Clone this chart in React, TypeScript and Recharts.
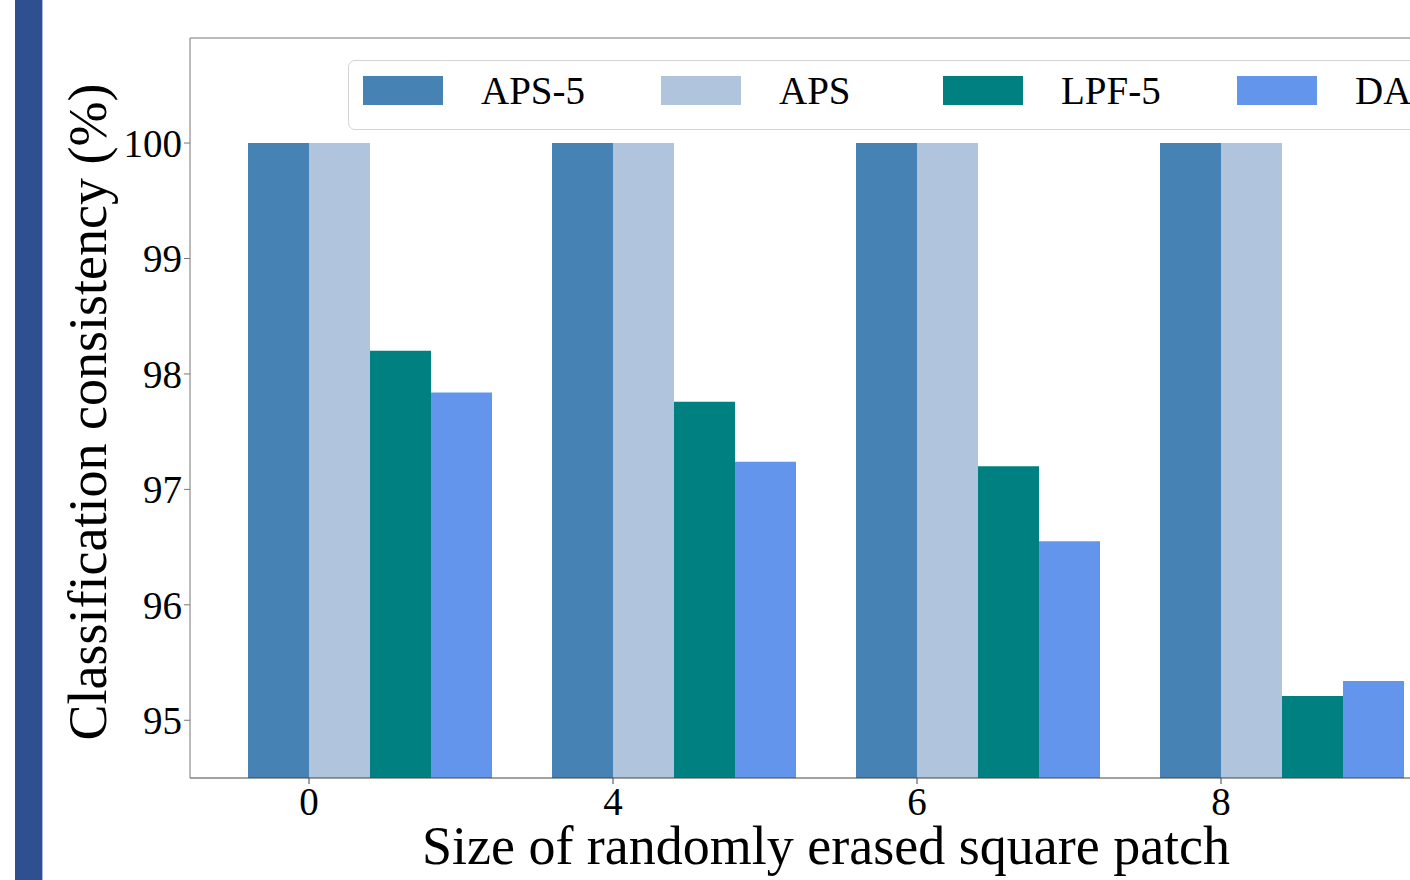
import { BarChart, Bar, XAxis, YAxis, Legend } from "recharts"

const sizes = ["0", "4", "6", "8"]
const seriesNames = ["APS-5", "APS", "LPF-5", "DA"]
const aps5 = [100, 100, 100, 100]
const aps = [100, 100, 100, 100]
const lpf5 = [98.2, 97.76, 97.2, 95.21]
const da = [97.84, 97.24, 96.55, 95.34]
const yTicks = [95, 96, 97, 98, 99, 100]

const data = sizes.map((s, i) => ({ size: s, aps5: aps5[i], aps: aps[i], lpf5: lpf5[i], da: da[i] }))

const FONT = "'Liberation Serif', 'Times New Roman', serif"
const BAR = 61
// legend column widths, matplotlib-ish spacing
const LEGEND_COL_W = [298, 282, 294, 290]

const XTick = (props: any) => {
  const { x, y, payload } = props
  const tx = x - BAR
  return (
    <g>
      <line x1={tx} x2={tx} y1={y - 8} y2={y - 2} stroke="#444" />
      <text x={tx} y={y} dy="0.74em" textAnchor="middle" fontSize={39} fontFamily={FONT} fill="#000">
        {payload.value}
      </text>
    </g>
  )
}

const XTitle = (props: any) => {
  const { viewBox } = props
  const cx = viewBox.x + viewBox.width / 2
  return (
    <text x={cx} y={viewBox.y + 86} textAnchor="middle" fontSize={54} fontFamily={FONT} fill="#000">
      Size of randomly erased square patch
    </text>
  )
}

const YTitle = (props: any) => {
  const { viewBox } = props
  const cx = viewBox.x + 106
  const cy = viewBox.y + viewBox.height / 2 + 4
  return (
    <text x={cx} y={cy} transform={`rotate(-90 ${cx} ${cy})`} textAnchor="middle" fontSize={54} fontFamily={FONT} fill="#000">
      Classification consistency (%)
    </text>
  )
}

const LegendBox = (props: any) => {
  const items = [...(props.payload || [])].sort(
    (a: any, b: any) => seriesNames.indexOf(a.value) - seriesNames.indexOf(b.value)
  )
  return (
    <div
      style={{
        display: "flex",
        alignItems: "center",
        border: "1px solid #d4d4d4",
        borderRadius: 7,
        background: "#fff",
        padding: "10px 0 19px 14px",
        fontFamily: FONT,
        fontSize: 39,
        lineHeight: 1,
        whiteSpace: "nowrap",
      }}
    >
      {items.map((p: any, i: number) => (
        <div key={p.value} style={{ display: "flex", alignItems: "center", width: LEGEND_COL_W[i] }}>
          <span style={{ display: "inline-block", width: 80, height: 29, background: p.color, marginRight: 38 }} />
          <span>{p.value}</span>
        </div>
      ))}
    </div>
  )
}

export default function App() {
  return (
    <div style={{ position: "fixed", left: 0, top: 0, width: 1410, height: 880, overflow: "hidden", background: "#fff", fontFamily: FONT }}>
      <div style={{ position: "absolute", left: 15, top: 0, width: 27, height: 880, background: "#2e5090", borderRight: "1px solid #a9bbdc" }} />
      <div style={{ position: "absolute", left: 0, top: 0 }}>
        <BarChart width={1480} height={880} data={data} margin={{ top: 37, right: 18, left: 0, bottom: 0 }} barGap={0}>
          <XAxis
            dataKey="size"
            height={102}
            padding={{ left: 28, right: 28 }}
            interval={0}
            tickLine={false}
            tickSize={6}
            tickMargin={2}
            tick={<XTick />}
            axisLine={{ stroke: "#444" }}
            label={{ content: <XTitle /> }}
          />
          <XAxis xAxisId="top" orientation="top" dataKey="size" height={1} tick={false} tickLine={false} axisLine={{ stroke: "#777" }} />
          <YAxis
            type="number"
            width={190}
            domain={[94.5, 100.91]}
            ticks={yTicks}
            allowDataOverflow
            tickSize={6}
            tickMargin={2}
            tickLine={{ stroke: "#777" }}
            axisLine={{ stroke: "#777" }}
            tick={{ fill: "#000", fontSize: 39, fontFamily: FONT }}
            label={{ content: <YTitle /> }}
          />
          <Legend
            layout="horizontal"
            verticalAlign="middle"
            align="center"
            content={<LegendBox />}
            wrapperStyle={{ left: 348, top: 60, width: "auto", height: "auto" }}
          />
          <Bar dataKey="aps5" name={seriesNames[0]} fill="#4682b4" barSize={BAR} isAnimationActive={false} />
          <Bar dataKey="aps" name={seriesNames[1]} fill="#b0c4de" barSize={BAR} isAnimationActive={false} />
          <Bar dataKey="lpf5" name={seriesNames[2]} fill="#008080" barSize={BAR} isAnimationActive={false} />
          <Bar dataKey="da" name={seriesNames[3]} fill="#6495ed" barSize={BAR} isAnimationActive={false} />
        </BarChart>
      </div>
    </div>
  )
}
